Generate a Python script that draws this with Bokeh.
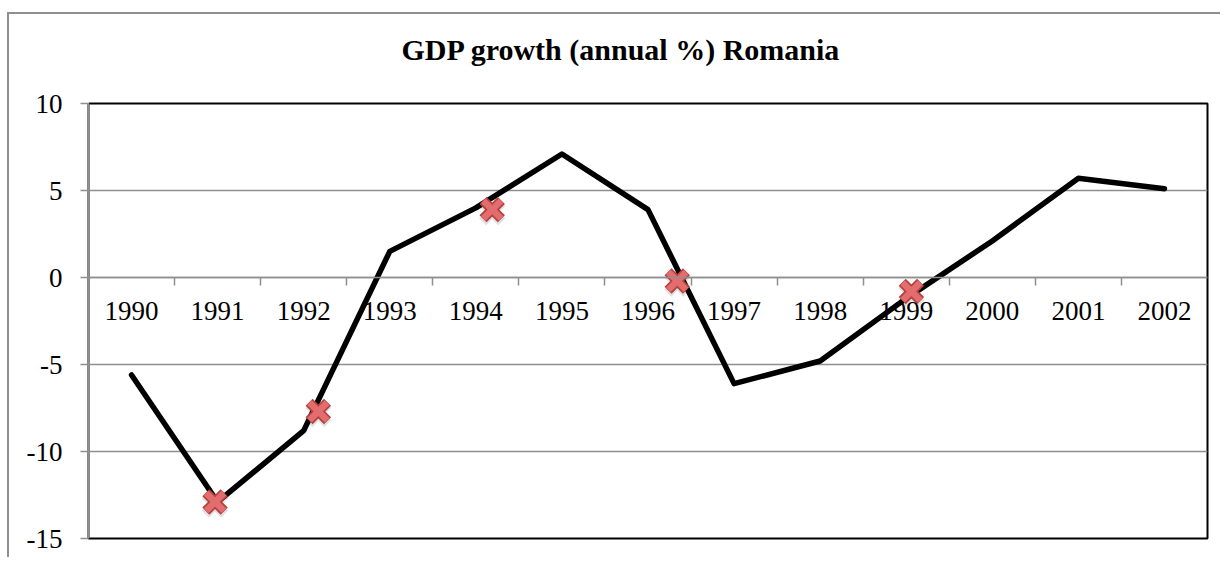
from bokeh.plotting import figure
from bokeh.models import Range1d, LinearAxis, FixedTicker, Title
from bokeh.embed import file_html
from bokeh.resources import INLINE

years = [1990, 1991, 1992, 1993, 1994, 1995, 1996, 1997, 1998, 1999, 2000, 2001, 2002]
gdp_growth = [-5.6, -12.9, -8.8, 1.5, 4.0, 7.1, 3.9, -6.1, -4.8, -1.2, 2.1, 5.7, 5.1]
tick_labels = [str(y) for y in years]

# marker series (red crosses)
mark_x = [1990.97, 1992.17, 1994.19, 1996.34, 1999.06]
mark_y = [-12.9, -7.7, 3.9, -0.2, -0.8]

y_ticks = [-15, -10, -5, 0, 5, 10]
y_tick_labels = ["-15", "-10", "-5", "0", "5", "10"]
TITLE = "GDP growth (annual %) Romania"
FONT = "Liberation Serif"

p = figure(width=1213, height=545, output_backend="svg", toolbar_location=None,
           x_range=Range1d(1989.5, 2002.5), y_range=Range1d(-15, 10),
           min_border_left=79, min_border_top=89, min_border_right=15, min_border_bottom=21,
           background_fill_color="white", border_fill_color="white")
p.styles = {"border-top": "2px solid #8f8f8f", "border-left": "2px solid #8f8f8f",
            "margin-top": "12px", "margin-left": "7px"}

# x axis: tick marks between categories, at y=0
xa = p.below[0]
xa.fixed_location = 0
xa.ticker = FixedTicker(ticks=[y + 0.5 for y in years[:-1]])
xa.axis_line_color = "#8f8f8f"
xa.axis_line_width = 1.5
xa.major_tick_line_color = "#8f8f8f"
xa.major_tick_line_width = 1.5
xa.major_tick_out = 8
xa.major_tick_in = 0
xa.minor_tick_line_color = None
xa.major_label_text_font_size = "0px"
xa.major_label_text_alpha = 0

# x axis labels at category centres
xl = LinearAxis(fixed_location=0, ticker=FixedTicker(ticks=years),
                major_label_overrides={y: s for y, s in zip(years, tick_labels)})
xl.axis_line_color = None
xl.major_tick_line_color = None
xl.minor_tick_line_color = None
xl.major_tick_out = 0
xl.major_tick_in = 0
xl.major_label_standoff = 24
xl.major_label_text_font = FONT
xl.major_label_text_font_size = "27px"
xl.major_label_text_color = "black"
p.add_layout(xl, "below")

# invisible spacer between the frame and the title (one white tick at the frame corner)
spacer = LinearAxis(ticker=FixedTicker(ticks=[1989.5]), axis_line_color=None,
                    major_tick_line_color="white", major_tick_line_width=1,
                    minor_tick_line_color=None,
                    major_tick_in=0, major_tick_out=32, minor_tick_out=0,
                    major_label_standoff=0, major_label_text_font_size="0px",
                    major_label_text_alpha=0, major_label_overrides={1989.5: ""})
p.add_layout(spacer, "above")

title = Title(text=TITLE, align="left", offset=313,
              text_font=FONT, text_font_size="30px", text_font_style="bold",
              text_color="black", standoff=12)
p.add_layout(title, "above")

p.outline_line_color = "black"
p.outline_line_width = 2

# grid
p.xgrid.visible = False
p.ygrid.ticker = FixedTicker(ticks=[-10, -5, 0, 5])
p.ygrid.grid_line_color = "#8f8f8f"
p.ygrid.grid_line_width = 1.5

# y axis
p.yaxis.ticker = FixedTicker(ticks=y_ticks)
p.yaxis.major_label_overrides = {t: s for t, s in zip(y_ticks, y_tick_labels)}
p.yaxis.axis_line_color = "#8f8f8f"
p.yaxis.axis_line_width = 2
p.yaxis.major_tick_line_color = "#8f8f8f"
p.yaxis.major_tick_line_width = 1.5
p.yaxis.major_tick_out = 8
p.yaxis.major_tick_in = 0
p.yaxis.minor_tick_line_color = None
p.yaxis.major_label_standoff = 18
p.yaxis.major_label_text_font = FONT
p.yaxis.major_label_text_font_size = "27px"
p.yaxis.major_label_text_color = "black"

# data line
p.line(years, gdp_growth, line_color="black", line_width=5.5, line_join="round", line_cap="round")

# red crosses (shadow, outline, fill)
p.scatter(mark_x, [v - 0.15 for v in mark_y], marker="x", size=27, line_width=10,
          line_color="#000000", line_alpha=0.12)
p.scatter(mark_x, mark_y, marker="x", size=26, line_width=10, line_color="#b5413f")
p.scatter(mark_x, mark_y, marker="x", size=25, line_width=6.5, line_color="#e36d6e")

open("out.html", "w").write(file_html(p, INLINE))
